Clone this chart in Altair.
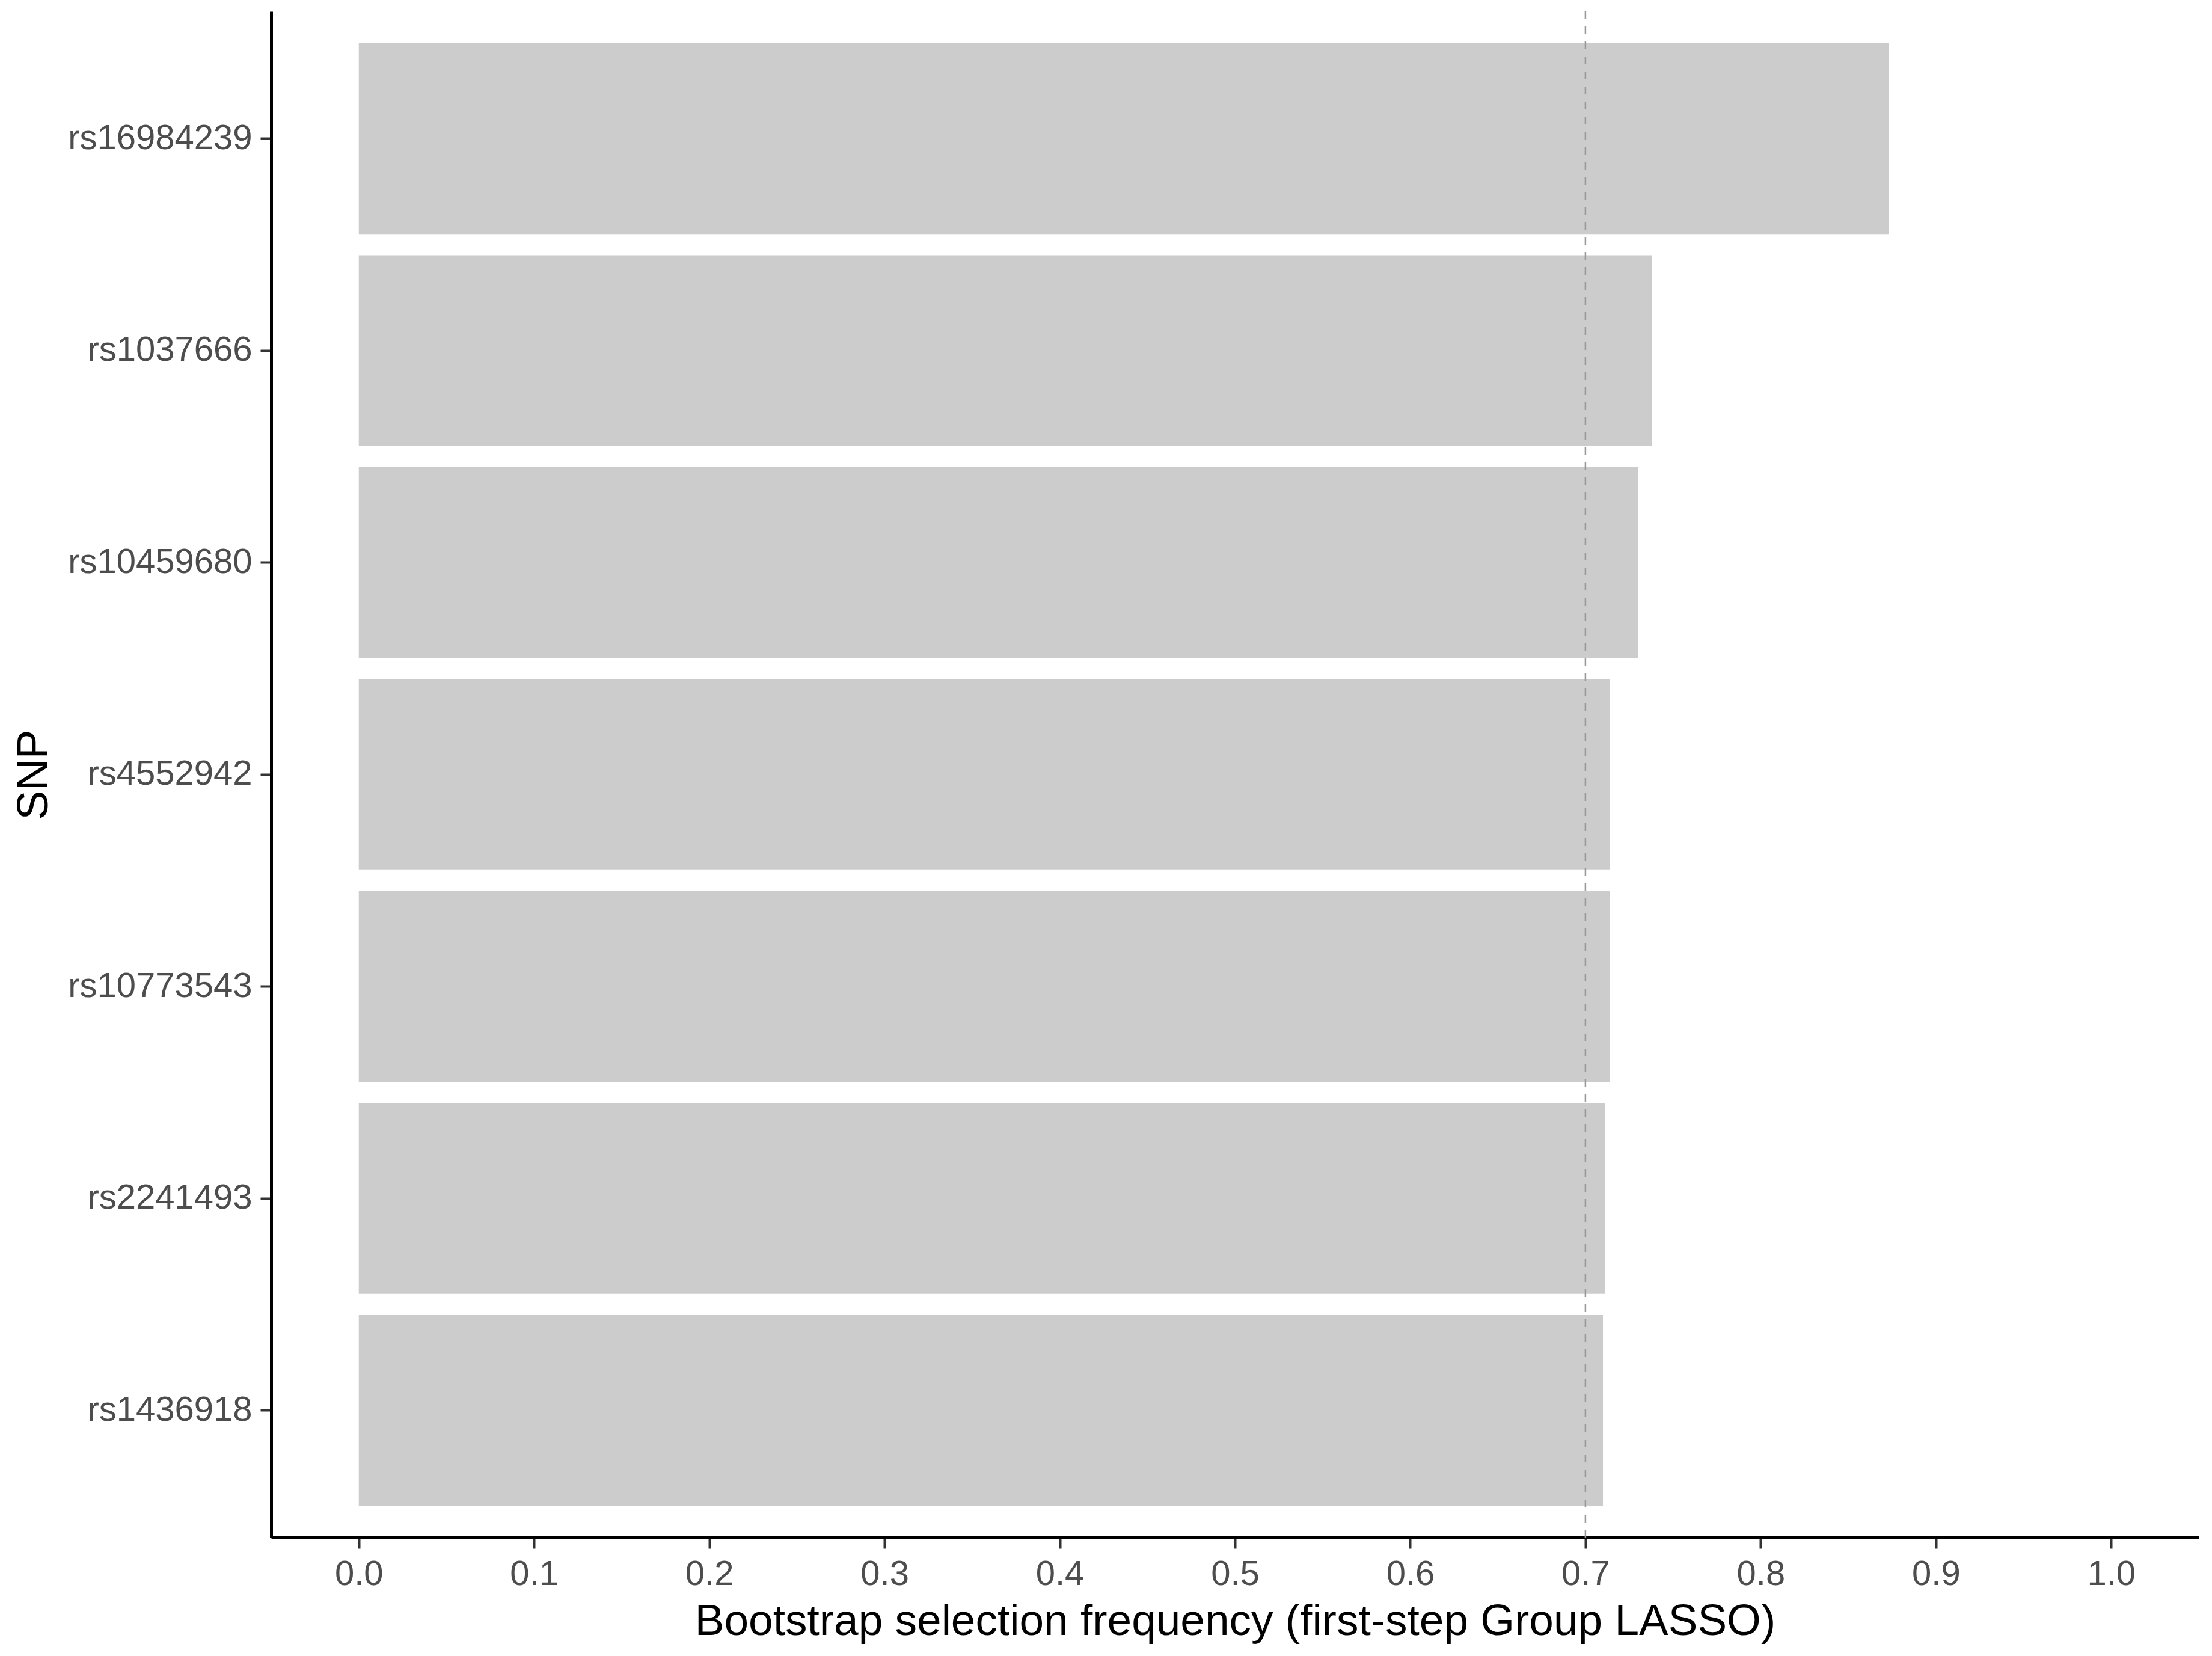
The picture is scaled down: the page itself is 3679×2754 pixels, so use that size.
import altair as alt
import pandas as pd

snps = ["rs16984239", "rs1037666", "rs10459680", "rs4552942",
        "rs10773543", "rs2241493", "rs1436918"]
freq = [0.873, 0.738, 0.730, 0.714, 0.714, 0.711, 0.710]
threshold = 0.7
x_ticks = [0.0, 0.1, 0.2, 0.3, 0.4, 0.5, 0.6, 0.7, 0.8, 0.9, 1.0]

df = pd.DataFrame({"SNP": snps, "freq": freq})

FONT = "Liberation Sans"

xscale = alt.Scale(domain=[-0.05, 1.05], nice=False, zero=False)
yscale = alt.Scale(domain=snps, paddingInner=0.1, paddingOuter=0.15)

bars = alt.Chart(df).mark_bar(color="#CCCCCC").encode(
    y=alt.Y("SNP:N", sort=snps, scale=yscale,
            axis=alt.Axis(title="SNP", labelLimit=1000,
                          titleX=-373, titleY=1269, titleBaseline="alphabetic",
                          titleAlign="center")),
    x=alt.X("freq:Q", scale=xscale,
            axis=alt.Axis(title="Bootstrap selection frequency (first-step Group LASSO)",
                          values=x_ticks, format=".1f", titlePadding=13)),
    x2=alt.datum(0),
)

rule = alt.Chart(pd.DataFrame({"t": [threshold]})).mark_rule(
    color="#999999", strokeDash=[13, 12], strokeWidth=2.5
).encode(x=alt.X("t:Q", scale=xscale))

chart = alt.layer(bars, rule).properties(
    width=3206, height=2538,
    autosize=alt.AutoSizeParams(type="none"),
    padding={"left": 443, "top": 11, "right": 14, "bottom": 180},
).configure_view(stroke=None).configure_axis(
    grid=False,
    domainColor="black", domainWidth=5,
    tickColor="#333333", tickWidth=4, tickSize=18,
    labelFont=FONT, labelFontSize=58, labelColor="#4D4D4D", labelPadding=14,
    labelLimit=1000,
    titleFont=FONT, titleFontSize=73, titleColor="black", titleFontWeight="normal",
)

chart.save("out.html", embed_options={"renderer": "svg", "actions": False})
